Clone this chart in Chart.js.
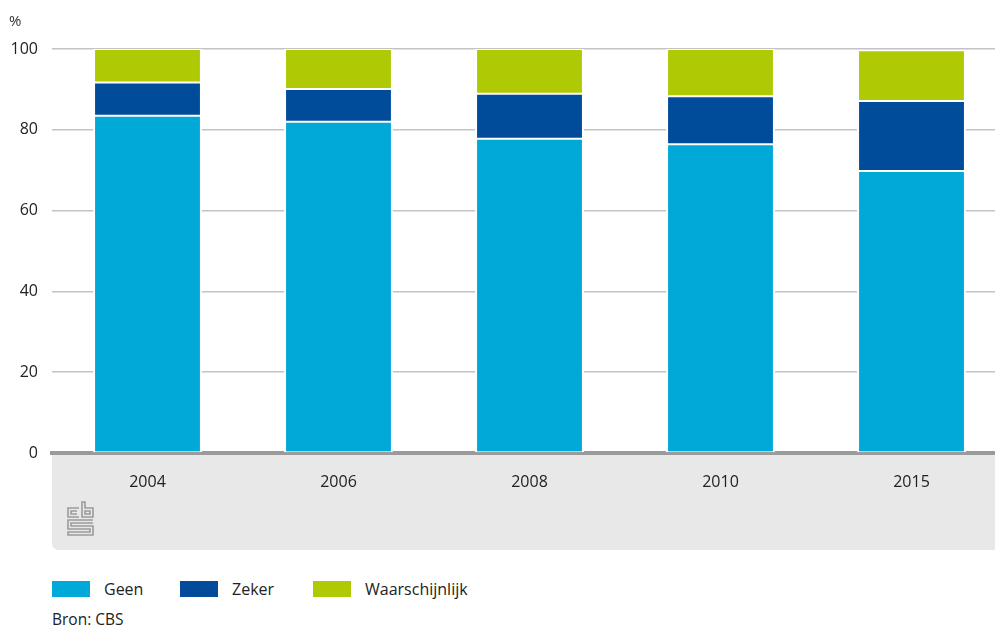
<!DOCTYPE html>
<html>
<head>
<meta charset="utf-8">
<script src="https://cdn.jsdelivr.net/npm/chart.js@4"></script>
<style>
  html, body { margin: 0; padding: 0; background: #fff; overflow: hidden; }
  body { width: 995px; height: 626px; position: relative; font-family: "Open Sans", sans-serif; color: #222; }
  #wrap { position: absolute; left: 0; top: 0; width: 1010px; height: 556px; }
  .legend { position: absolute; top: 577px; left: 0; font-size: 16px; }
  .item { position: absolute; top: 0; white-space: nowrap; }
  .box { position: absolute; top: 4px; width: 38px; height: 16px; }
  .lbl { position: absolute; top: 0; line-height: 24px; }
  .src { position: absolute; left: 52px; top: 607px; font-size: 15.5px; line-height: 24px; }
</style>
</head>
<body>
<div id="wrap"><canvas id="bar-chart"></canvas></div>
<div class="legend" id="legend"></div>
<div class="src">Bron: CBS</div>
<script>
// categories and series (percent of respondents)
const years = ['2004', '2006', '2008', '2010', '2015'];
const geen = [83.5, 82.0, 77.8, 76.4, 69.8];
const zeker = [8.2, 8.1, 11.1, 11.9, 17.3];
const waarschijnlijk = [8.3, 9.9, 11.1, 11.7, 12.6];
const yTicks = [0, 20, 40, 60, 80, 100];

const colors = { geen: '#00a9d7', zeker: '#004c9a', waarschijnlijk: '#afca05' };

// grey band under the axis, % label and cbs logo
const backdrop = {
    id: 'backdrop',
    beforeDraw(chart) {
        const ctx = chart.ctx;
        const area = chart.chartArea;
        const x0 = area.left, y0 = area.bottom, x1 = chart.width, y1 = 550, r = 7;
        ctx.save();
        ctx.fillStyle = '#e8e8e8';
        ctx.beginPath();
        ctx.moveTo(x0, y0);
        ctx.lineTo(x1, y0);
        ctx.lineTo(x1, y1);
        ctx.lineTo(x0 + r, y1);
        ctx.quadraticCurveTo(x0, y1, x0, y1 - r);
        ctx.closePath();
        ctx.fill();

        ctx.fillStyle = '#333';
        ctx.font = '15px "Open Sans", sans-serif';
        ctx.textBaseline = 'alphabetic';
        ctx.fillText('%', 9, 26);

        // logo
        ctx.strokeStyle = '#9a9a9a';
        ctx.lineWidth = 1.6;
        const lx = 68, ly = 502;
        ctx.beginPath();
        // c
        ctx.moveTo(79, ly + 6); ctx.lineTo(lx, ly + 6); ctx.lineTo(lx, ly + 15); ctx.lineTo(79, ly + 15);
        ctx.moveTo(77, ly + 9); ctx.lineTo(71, ly + 9); ctx.lineTo(71, ly + 12); ctx.lineTo(77, ly + 12);
        // b
        ctx.moveTo(82, ly); ctx.lineTo(82, ly + 15); ctx.lineTo(93, ly + 15); ctx.lineTo(93, ly + 6); ctx.lineTo(85, ly + 6); ctx.lineTo(85, ly);
        ctx.closePath();
        ctx.moveTo(85, ly + 9); ctx.lineTo(90, ly + 9); ctx.lineTo(90, ly + 12); ctx.lineTo(85, ly + 12); ctx.closePath();
        // S
        ctx.moveTo(93, ly + 18); ctx.lineTo(lx, ly + 18); ctx.lineTo(lx, ly + 27); ctx.lineTo(90, ly + 27); ctx.lineTo(90, ly + 30); ctx.lineTo(lx, ly + 30); ctx.lineTo(lx, ly + 33); ctx.lineTo(93, ly + 33); ctx.lineTo(93, ly + 24); ctx.lineTo(71, ly + 24); ctx.lineTo(71, ly + 21); ctx.lineTo(93, ly + 21);
        ctx.stroke();
        ctx.restore();
    }
};

function makeSet(label, data, color) {
    return {
        label: label,
        data: data,
        backgroundColor: color,
        borderColor: '#ffffff',
        borderWidth: { top: 1, bottom: 1, left: 2, right: 2 },
        borderSkipped: false,
        barPercentage: 0.57,
        categoryPercentage: 1
    };
}

function createBarChart() {
    const ctx = document.getElementById('bar-chart').getContext('2d');
    new Chart(ctx, {
        type: 'bar',
        data: {
            labels: years,
            datasets: [
                makeSet('Geen', geen, colors.geen),
                makeSet('Zeker', zeker, colors.zeker),
                makeSet('Waarschijnlijk', waarschijnlijk, colors.waarschijnlijk)
            ]
        },
        options: {
            responsive: true,
            maintainAspectRatio: false,
            animation: false,
            layout: { padding: { top: 49, right: 3, left: 0, bottom: 0 } },
            plugins: { legend: { display: false }, tooltip: { enabled: false } },
            scales: {
                x: {
                    stacked: true,
                    grid: { display: false },
                    border: { color: '#9a9a9a', width: 4 },
                    ticks: { color: '#222', font: { family: 'Open Sans', size: 16 }, padding: 12 },
                    afterFit(scale) { scale.height = 103; }
                },
                y: {
                    stacked: true,
                    min: 0,
                    max: 100,
                    afterBuildTicks(scale) { scale.ticks = yTicks.map(v => ({ value: v })); },
                    grid: { color: '#c4c4c4', lineWidth: 1.6, drawTicks: false },
                    border: { display: false },
                    ticks: { color: '#222', font: { family: 'Open Sans', size: 16 }, padding: 14 },
                    afterFit(scale) { scale.width = 52; }
                }
            }
        },
        plugins: [backdrop]
    });
}

function createLegend() {
    const el = document.getElementById('legend');
    const items = [['Geen', colors.geen, 52], ['Zeker', colors.zeker, 180], ['Waarschijnlijk', colors.waarschijnlijk, 313]];
    items.forEach(([name, color, x]) => {
        const d = document.createElement('div');
        d.className = 'item';
        d.style.left = x + 'px';
        d.innerHTML = '<div class="box" style="background:' + color + '"></div><div class="lbl" style="left:52px">' + name + '</div>';
        el.appendChild(d);
    });
}

window.addEventListener('DOMContentLoaded', () => {
    createBarChart();
    createLegend();
});
</script>
</body>
</html>
